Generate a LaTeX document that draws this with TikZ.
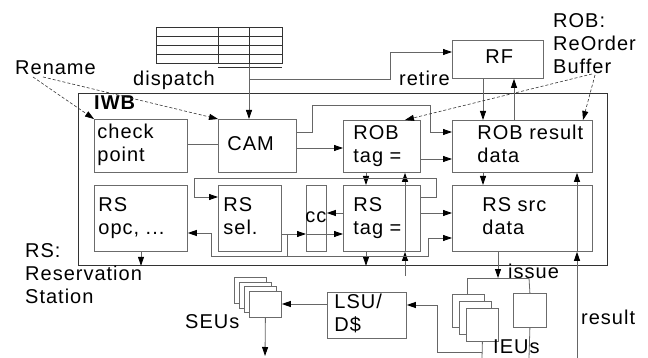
\documentclass[tikz,border=0pt]{standalone}
\usepackage{fontspec}
\setmainfont{Liberation Sans}[LetterSpace=5]
\usetikzlibrary{arrows.meta}
\definecolor{gl}{gray}{0.4}
\definecolor{gb}{gray}{0.42}
\definecolor{gd}{gray}{0.2}
\tikzset{
  every node/.style={font=\fontsize{20}{23}\selectfont, inner sep=0pt},
  box/.style={draw=gb, line width=.8pt, anchor=north west},
  stk/.style={box, fill=white},
  ln/.style={draw=gl, line width=.8pt},
  arr/.style={ln, -{Triangle[length=9pt,width=6pt,color=black]}},
  dsh/.style={draw=gd, line width=.6pt, dash pattern=on 3pt off 2pt, -{Triangle[length=9pt,width=6pt,color=black]}},
  txt/.style={anchor=base west},
}
\newcommand\bx[7]{%
  \pgfmathsetmacro\bxw{#4-#2}\pgfmathsetmacro\bxh{#5-#3}%
  \node[box, minimum height=\bxh pt] (#1) at (#2,#3)
    {\makebox[\bxw pt][l]{\hspace*{#6pt}\begin{tabular}{@{}l@{}}#7\end{tabular}}};}
\begin{document}
\begin{tikzpicture}[x=1pt,y=-1pt]
\useasboundingbox (0,0) rectangle (648,358);
% table
\node[draw=gd, line width=.8pt, anchor=north west, minimum width=126pt, minimum height=36pt] (tab) at (156,27) {};
\foreach \yy in {36,45,54} \draw[draw=gd, line width=.8pt] (tab.west |- 0,\yy) -- (tab.east |- 0,\yy);
\foreach \xx in {218,249} \draw[draw=gd, line width=.8pt] (tab.north -| \xx,0) -- (tab.south -| \xx,0);
\draw[draw=gd, line width=.8pt] (218,67) -- (282,67);
% IWB
\node[draw=gd, line width=.8pt, anchor=north west, minimum width=529pt, minimum height=172pt] (iwb) at (78,93) {};
\node[txt] (iwbl) at (94,110) {\bfseries IWB};
% boxes
\bx{rf}{452}{40}{543}{78}{33}{RF}
\bx{cp}{94}{119}{187}{172}{3}{check\\point}
\bx{cam}{218}{119}{296}{172}{9}{CAM}
\bx{robt}{343}{120}{420}{172}{10}{ROB\\tag =}
\bx{robr}{452}{120}{592}{172}{25}{ROB result\\data}
\bx{rso}{94}{185}{187}{251}{4}{RS\\opc, ...}
\bx{rss}{218}{185}{281}{251}{5}{RS\\sel.}
\bx{cc}{306}{185}{326}{251}{-1}{cc}
\bx{rst}{343}{185}{420}{251}{10}{RS\\tag =}
\bx{rsr}{452}{185}{592}{251}{30}{RS src\\data}
\bx{lsu}{327}{292}{406}{338}{7}{LSU/\\D\$}
% stacks
\foreach \i in {0,1,2,3} \node[stk, minimum width=32pt, minimum height=26pt] (seu\i) at (234+5*\i,277+4.7*\i) {};
\foreach \i in {0,1,2} \node[stk, minimum width=32pt, minimum height=33pt] (ieu\i) at (452+7*\i,294+7*\i) {};
\node[stk, minimum width=33pt, minimum height=34pt] (ieus) at (513,293) {};
% free texts
\node[txt] (ren) at (15,75) {Rename};
\node[txt] (disp) at (133,86) {dispatch};
\node[txt] (ret) at (399,86) {retire};
\node[anchor=north west, align=left] (robl) at (553,13) {ROB:\\ReOrder\\Buffer};
\node[anchor=north west, align=left] (rsl) at (25,243) {RS:\\Reservation\\Station};
\node[txt] (iss) at (508,278) {issue};
\node[txt] (resl) at (581,324) {result};
\node[txt] (ieul) at (493,353) {IEUs};
\node[txt] (seul) at (185,328) {SEUs};
% connectors top
\draw[arr] (tab.south -| 249,0) -- (cam.north -| 249,0);
\draw[arr] (249,79) -- (390,79) |- (rf.west |- 0,52);
\draw[ln] (cp.east |- 0,144) -- (cam.west |- 0,144);
\draw[arr] (cam.east |- 0,148) -- (robt.west |- 0,148);
\draw[arr] (cam.east |- 0,132) -- (312,132) -- (312,105) -- (430,105) -- (430,132) -- (robr.west |- 0,132);
\draw[arr] (robt.east |- 0,159) -- (robr.west |- 0,159);
\draw[arr] (rf.south -| 483,0) -- (robr.north -| 483,0);
\draw[arr] (robr.north -| 514,0) -- (rf.south -| 514,0);
\draw[dsh] (33,77) -- (cp.north west);
\draw[dsh] (43,77) -- (cam.north west);
\draw[dsh] (592,74) -- (robt.north -| 405,0);
\draw[dsh] (595,75) -- (robr.north -| 583,0);
% row 2
\draw[arr] (robt.south -| 366,0) -- (rst.north -| 366,0);
\coordinate (b405) at (405,276);
\draw[arr] (b405) -- (rst.south -| b405);
\draw[arr] (rst.south -| b405) -- (robt.south -| b405);
\draw[arr] (rst.south -| 366,0) -- (iwb.south -| 366,0);
\draw[arr] (rso.south -| 141,0) -- (iwb.south -| 141,0);
\draw[arr] (robr.south -| 483,0) -- (rsr.north -| 483,0);
\coordinate (rb) at (577,358);
\draw[arr] (rb) -- (rsr.south -| rb);
\draw[arr] (rsr.south -| rb) -- (robr.south -| rb);
\draw[arr] (rst.east |- 0,197) -- (436,197) -- (436,178) -- (194,178) -- (194,197) -- (rss.west |- 0,197);
\draw[arr] (rst.east |- 0,213) -- (rsr.west |- 0,213);
\draw[arr] (rst.west |- 0,213) -- (cc.east |- 0,213);
\draw[arr] (rss.east |- 0,234) -- (cc.west |- 0,234);
\draw[arr] (cc.west |- 0,234) -- (rst.west |- 0,234);
\draw[ln] (287,234) -- (287,256);
\draw[arr] (287,256) -- (211,256) -- (211,233) -- (rso.east |- 0,233);
\draw[arr] (287,256) -- (428,256) -- (428,238) -- (rsr.west |- 0,238);
% bottom
\draw[arr] (rsr.south -| 498,0) -- (498,278);
\draw[ln] (467,278) -- (529,278);
\draw[ln] (467,278) -- (ieu0.north -| 467,0);
\draw[ln] (529,278) -- (ieus.north);
\draw[ln] (ieus.south) -- (529,358);
\draw[ln] (ieu2.south) -- (482,358);
\draw[arr] (482,352) -- (437,352) -- (437,305) -- (lsu.east |- 0,305);
\draw[arr] (lsu.west |- 0,304) -- (seu3.east |- 0,304);
\draw[arr] (seu3.south) -- (265,356);
\end{tikzpicture}
\end{document}
